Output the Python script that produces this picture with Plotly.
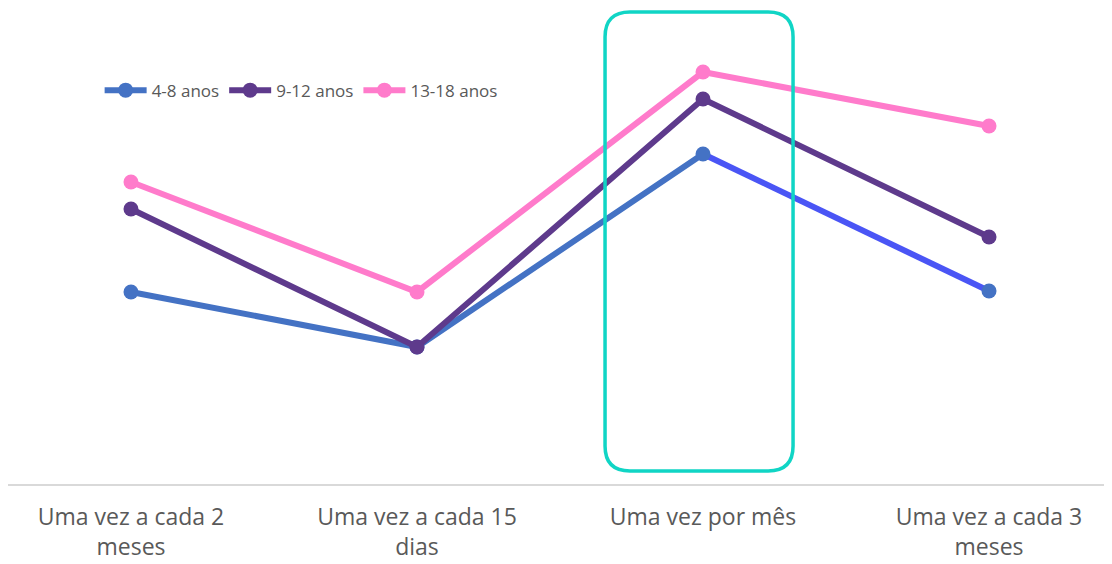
import plotly.graph_objects as go

categories = ["Uma vez a cada 2<br>meses", "Uma vez a cada 15<br>dias", "Uma vez por mês", "Uma vez a cada 3<br>meses"]
series_names = ["4-8 anos", "9-12 anos", "13-18 anos"]
vals_4_8 = [19.2, 13.7, 33.0, 19.3]
vals_9_12 = [27.5, 13.7, 38.5, 24.7]
vals_13_18 = [30.2, 19.2, 41.2, 35.8]

colors = ["#4472C4", "#5E3A8C", "#FF7BCB"]
seg_color = "#4A55F5"

fig = go.Figure()
# last segment of the blue series is drawn brighter
fig.add_trace(go.Scatter(x=categories[2:], y=vals_4_8[2:], mode="lines",
                         line=dict(color=seg_color, width=6), showlegend=False, hoverinfo="skip"))
fig.add_trace(go.Scatter(x=categories[:3], y=vals_4_8[:3], mode="lines",
                         line=dict(color=colors[0], width=6), showlegend=False, hoverinfo="skip"))
fig.add_trace(go.Scatter(x=categories, y=vals_4_8, mode="markers", name=series_names[0],
                         marker=dict(color=colors[0], size=15), showlegend=False))
for name, vals, c, rank in [(series_names[1], vals_9_12, colors[1], 2), (series_names[2], vals_13_18, colors[2], 3)]:
    fig.add_trace(go.Scatter(x=categories, y=vals, mode="lines+markers", name=name, legendrank=rank,
                             line=dict(color=c, width=6), marker=dict(color=c, size=15)))
# legend entry for first series
fig.add_trace(go.Scatter(x=[None], y=[None], mode="lines+markers", name=series_names[0], legendrank=1,
                         line=dict(color=colors[0], width=6), marker=dict(color=colors[0], size=15)))

# rounded highlight rectangle (paper coords)
x0, x1, y0, y1 = 0.5408, 0.7111, 0.0274, 0.9958
rx, ry = 0.0226, 0.0527
path = (f"M {x0+rx},{y1} L {x1-rx},{y1} Q {x1},{y1} {x1},{y1-ry} "
        f"L {x1},{y0+ry} Q {x1},{y0} {x1-rx},{y0} "
        f"L {x0+rx},{y0} Q {x0},{y0} {x0},{y0+ry} "
        f"L {x0},{y1-ry} Q {x0},{y1} {x0+rx},{y1} Z")
fig.add_shape(type="path", xref="paper", yref="paper", path=path,
              line=dict(color="#10D5C5", width=3.5), fillcolor="rgba(0,0,0,0)")

fig.update_layout(
    width=1112, height=564,
    margin=dict(l=0, r=8, t=2, b=88, autoexpand=False),
    paper_bgcolor="white", plot_bgcolor="white",
    font=dict(family="Open Sans, sans-serif", color="#595959"),
    legend=dict(orientation="h", x=0.083, y=0.83, xanchor="left", yanchor="middle",
                font=dict(size=17, color="#595959"), traceorder="normal",
                itemwidth=42,
                bgcolor="rgba(0,0,0,0)"),
    showlegend=True,
)

fig.update_xaxes(type="category", categoryorder="array", categoryarray=categories,
                 range=[-0.43, 3.43], showgrid=False, showline=True, automargin=False,
                 linecolor="#D9D9D9", linewidth=2, ticks="", ticklabelstandoff=11,
                 tickfont=dict(size=23, color="#595959"), zeroline=False)
fig.update_yaxes(range=[0, 47.4], showgrid=False, showticklabels=False,
                 zeroline=False, showline=False, automargin=False)

fig.write_html("out.html")
